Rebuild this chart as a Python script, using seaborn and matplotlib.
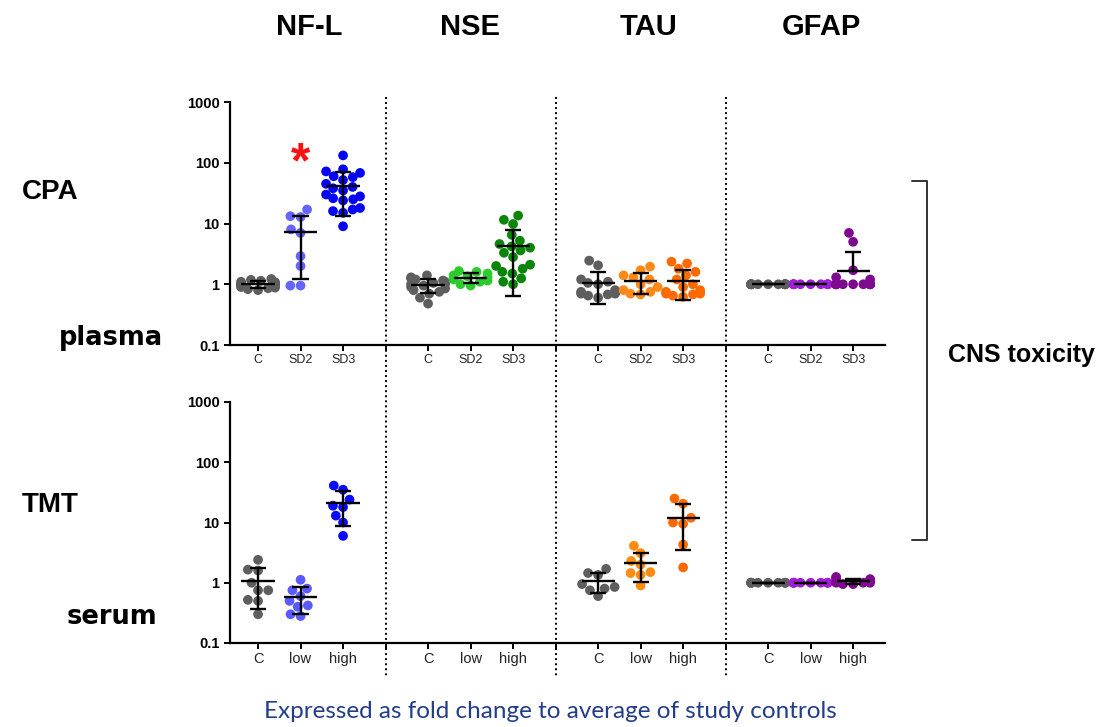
import warnings

import matplotlib
matplotlib.use("Agg")
import matplotlib.pyplot as plt
import numpy as np
import pandas as pd
import seaborn as sns
from matplotlib import transforms
from matplotlib.lines import Line2D
from matplotlib.ticker import NullLocator

warnings.filterwarnings("ignore", category=UserWarning)

# ---------------------------------------------------------------- data
markers = ["NF-L", "NSE", "TAU", "GFAP"]
cpa_groups = ["C", "SD2", "SD3"]
tmt_groups = ["C", "low", "high"]
y_ticks = [0.1, 1, 10, 100, 1000]
y_tick_labels = ["0.1", "1", "10", "100", "1000"]

# CPA study, plasma: fold change to the mean of the study controls
cpa_nfl_c = [0.80, 0.83, 0.86, 0.88, 0.90, 0.93, 0.95, 0.97, 1.00, 1.00,
             1.03, 1.05, 1.08, 1.10, 1.14, 1.18, 1.22]
cpa_nfl_sd2 = [17.0, 13.2, 12.8, 8.0, 7.0, 2.9, 2.0, 0.95, 0.95]
cpa_nfl_sd3 = [132, 78, 72, 68, 60, 58, 52, 45, 40, 38, 35, 30, 28, 26,
               25, 24, 18, 17, 16, 15, 9]
cpa_nse_c = [0.48, 0.60, 0.70, 0.75, 0.80, 0.85, 0.90, 0.95, 1.00, 1.00,
             1.05, 1.10, 1.15, 1.20, 1.25, 1.30, 1.40]
cpa_nse_sd2 = [0.95, 1.00, 1.10, 1.15, 1.20, 1.25, 1.30, 1.35, 1.40, 1.50,
               1.60, 1.65]
cpa_nse_sd3 = [13.5, 11.5, 9.8, 6.5, 5.2, 4.6, 4.2, 4.0, 3.6, 3.3, 2.8,
               2.1, 2.0, 1.8, 1.6, 1.5, 1.25, 1.1, 1.0]
cpa_tau_c = [2.45, 2.05, 1.20, 1.10, 1.05, 1.00, 0.80, 0.75, 0.72, 0.70,
             0.70, 0.68, 0.65, 0.60]
cpa_tau_sd2 = [1.95, 1.70, 1.40, 1.30, 1.20, 1.00, 0.90, 0.80, 0.75, 0.70,
               0.68]
cpa_tau_sd3 = [2.35, 2.20, 1.80, 1.60, 1.40, 1.20, 1.00, 0.90, 0.80, 0.75,
               0.72, 0.70, 0.70, 0.68, 0.65, 0.62]
cpa_gfap_c = [1.0, 1.0, 1.0, 1.0, 1.0, 1.0, 1.0, 1.0, 1.0, 1.0, 1.0, 1.0,
              1.0, 1.0, 1.0]
cpa_gfap_sd2 = [1.0, 1.0, 1.0, 1.0, 1.0, 1.0, 1.0, 1.0, 1.0, 1.0]
cpa_gfap_sd3 = [7.0, 5.0, 1.7, 1.3, 1.2, 1.0, 1.0, 1.0, 1.0, 1.0, 1.0,
                1.0, 1.0, 1.0, 1.0, 1.0, 1.0]

# TMT study, serum
tmt_nfl_c = [2.4, 1.65, 1.6, 1.0, 0.75, 0.75, 0.52, 0.5, 0.3]
tmt_nfl_low = [1.12, 0.8, 0.75, 0.6, 0.5, 0.42, 0.4, 0.3, 0.28]
tmt_nfl_high = [41, 35, 24, 19, 18, 13, 10, 6]
tmt_nse_c = []
tmt_nse_low = []
tmt_nse_high = []
tmt_tau_c = [1.7, 1.45, 1.35, 0.95, 0.85, 0.8, 0.75, 0.6]
tmt_tau_low = [4.1, 3.1, 2.3, 2.0, 1.5, 1.45, 1.35, 0.9]
tmt_tau_high = [25, 20.5, 12, 10, 9.5, 4.3, 1.8]
tmt_gfap_c = [1.0, 1.0, 1.0, 1.0, 1.0, 1.0, 1.0, 1.0, 1.0, 1.0]
tmt_gfap_low = [1.0, 1.0, 1.0, 1.0, 1.0, 1.0, 1.0, 1.0, 1.0, 1.0]
tmt_gfap_high = [1.25, 1.2, 1.15, 1.1, 1.05, 1.0, 1.0, 1.0, 0.95, 0.95]

cpa_values = {
    "NF-L": [cpa_nfl_c, cpa_nfl_sd2, cpa_nfl_sd3],
    "NSE": [cpa_nse_c, cpa_nse_sd2, cpa_nse_sd3],
    "TAU": [cpa_tau_c, cpa_tau_sd2, cpa_tau_sd3],
    "GFAP": [cpa_gfap_c, cpa_gfap_sd2, cpa_gfap_sd3],
}
tmt_values = {
    "NF-L": [tmt_nfl_c, tmt_nfl_low, tmt_nfl_high],
    "NSE": [tmt_nse_c, tmt_nse_low, tmt_nse_high],
    "TAU": [tmt_tau_c, tmt_tau_low, tmt_tau_high],
    "GFAP": [tmt_gfap_c, tmt_gfap_low, tmt_gfap_high],
}

# dot colours per marker: control, low dose, high dose
control_color = "#5e5e5e"
cpa_colors = {
    "NF-L": [control_color, "#6464ff", "#0505f0"],
    "NSE": [control_color, "#2ccc2c", "#0a850a"],
    "TAU": [control_color, "#ff8a1a", "#ff6a00"],
    "GFAP": [control_color, "#a21ed6", "#7e0a8e"],
}
tmt_colors = {
    "NF-L": [control_color, "#5a5aff", "#0a0aff"],
    "NSE": [control_color, "#2ccc2c", "#0a850a"],
    "TAU": [control_color, "#ff8c10", "#ff6a00"],
    "GFAP": [control_color, "#a21ed6", "#7e0a8e"],
}

SLOTS_PER_MARKER = 4


def long_frame(values, groups, colors):
    rows = []
    palette = {}
    for m_i, marker in enumerate(markers):
        for g_i, group in enumerate(groups):
            key = f"{marker}|{group}"
            vals = values[marker][g_i]
            if vals:
                palette[key] = colors[marker][g_i]
            for v in vals:
                rows.append({"marker": marker, "group": group,
                             "slot": m_i * SLOTS_PER_MARKER + g_i,
                             "value": v, "key": key})
    return pd.DataFrame(rows), palette


# ---------------------------------------------------------------- style
sns.set_theme(style="ticks")
plt.rcParams["font.family"] = ["Liberation Sans", "DejaVu Sans"]
plt.rcParams.update({"text.color": "black", "axes.labelcolor": "black",
                     "xtick.color": "black", "ytick.color": "black"})

fig = plt.figure(figsize=(11.02, 7.27), dpi=100)
W, H = 1102, 727


def px_axes(left, top, right, bottom):
    return fig.add_axes([left / W, 1 - bottom / H, (right - left) / W,
                         (bottom - top) / H])


ax_top = px_axes(230, 102, 885, 345)
ax_bot = px_axes(230, 402, 885, 643)

narrow = ["Liberation Sans Narrow", "Liberation Sans", "DejaVu Sans"]


def draw_row(ax, values, groups, colors, xlabel_size):
    df, palette = long_frame(values, groups, colors)
    ax.set_yscale("log")
    sns.swarmplot(data=df, x="slot", y="value", hue="key", palette=palette,
                  native_scale=True, size=7, linewidth=0, legend=False,
                  ax=ax, zorder=2)

    # mean line with +/- SD whiskers
    stats = df.groupby("slot")["value"].agg(["mean", "std"])
    line_kw = dict(color="black", lw=1.7, zorder=4)
    for slot, row in stats.iterrows():
        m, s = row["mean"], row["std"]
        ax.hlines(m, slot - 0.39, slot + 0.39, **line_kw)
        hi, lo = m + s, m - s
        ax.hlines(hi, slot - 0.19, slot + 0.19, **line_kw)
        if lo > 0:
            ax.vlines(slot, lo, hi, **line_kw)
            ax.hlines(lo, slot - 0.19, slot + 0.19, **line_kw)
        else:
            ax.vlines(slot, m, hi, **line_kw)

    slots = [m * SLOTS_PER_MARKER + g for m in range(len(markers))
             for g in range(len(groups))]
    ax.set_xticks(slots)
    ax.set_xticklabels(groups * len(markers), fontsize=xlabel_size,
                       family=narrow, color="#222222")
    ax.set_xticks([SLOTS_PER_MARKER * k - 1 for k in range(1, len(markers))],
                  minor=True)
    ax.set_xlim(-0.66, 14.75)
    ax.set_ylim(0.1, 1000)
    ax.set_yticks(y_ticks)
    ax.set_yticklabels(y_tick_labels, fontsize=10.5, fontweight="bold",
                       family=narrow)
    ax.yaxis.set_minor_locator(NullLocator())
    ax.set_xlabel("")
    ax.set_ylabel("")
    sns.despine(ax=ax)
    for side in ("left", "bottom"):
        ax.spines[side].set_linewidth(1.6)
        ax.spines[side].set_color("black")
    ax.tick_params(axis="both", which="both", direction="out", length=4.5,
                   width=1.4, color="black", pad=3)
    ax.tick_params(axis="x", pad=2)
    ax.set_facecolor("white")


draw_row(ax_top, cpa_values, cpa_groups, cpa_colors, 9)
draw_row(ax_bot, tmt_values, tmt_groups, tmt_colors, 10.5)

# significance mark above NF-L SD2
ax_top.text(1, 95, "*", color="#ff1010", fontsize=36, fontweight="bold",
            ha="center", va="center")

# dotted separators between markers, running through both rows
sep_tr = transforms.blended_transform_factory(ax_top.transData,
                                              fig.transFigure)
for k in range(1, len(markers)):
    xs = SLOTS_PER_MARKER * k - 1
    fig.add_artist(Line2D([xs, xs], [1 - 97 / H, 1 - 678 / H],
                          transform=sep_tr, color="black", lw=1.4,
                          linestyle=(0, (1, 1.6)), clip_on=False))

# marker titles
title_x = [309, 470, 648, 821]
for name, x in zip(markers, title_x):
    fig.text(x / W, 1 - 27 / H, name, ha="center", va="center",
             fontsize=21, fontweight="bold")

# row labels
fig.text(22 / W, 1 - 192 / H, "CPA", ha="left", va="center", fontsize=20,
         fontweight="bold")
fig.text(22 / W, 1 - 505 / H, "TMT", ha="left", va="center", fontsize=20,
         fontweight="bold")
fig.text(163 / W, 1 - 338 / H, "plasma", ha="right", va="center",
         fontsize=18.5, fontweight="bold", family="DejaVu Sans")
fig.text(157 / W, 1 - 617 / H, "serum", ha="right", va="center",
         fontsize=18.5, fontweight="bold", family="DejaVu Sans")

# bracket grouping the markers under CNS toxicity
bx = 927
fig.add_artist(Line2D([912 / W, bx / W, bx / W, 912 / W],
                      [1 - 181 / H, 1 - 181 / H, 1 - 540 / H, 1 - 540 / H],
                      transform=fig.transFigure, color="#333333", lw=1.4))
fig.text(948 / W, 1 - 355 / H, "CNS toxicity", ha="left", va="center",
         fontsize=18, fontweight="bold")

fig.text(550 / W, 1 - 711 / H,
         "Expressed as fold change to average of study controls",
         ha="center", va="center", fontsize=17.5, color="#223d8a",
         family=["Lato", "DejaVu Sans"])

fig.savefig("out.png", dpi=100, facecolor="white")
